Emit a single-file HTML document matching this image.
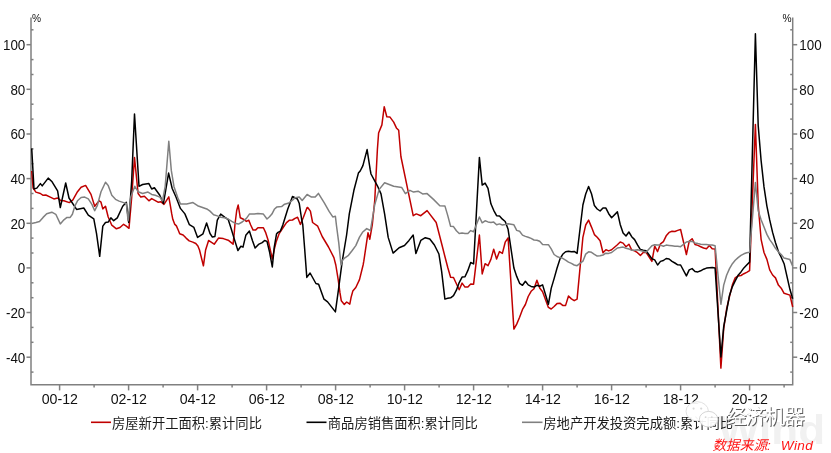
<!DOCTYPE html>
<html lang="zh-CN">
<head>
<meta charset="utf-8">
<title>chart</title>
<style>
html,body{margin:0;padding:0;background:#fff;}
body{width:831px;height:453px;position:relative;overflow:hidden;font-family:"Liberation Sans","Noto Sans CJK SC",sans-serif;}
</style>
</head>
<body>
<svg width="831" height="453" viewBox="0 0 831 453" style="position:absolute;left:0;top:0">
<text x="718" y="444" font-family="'Liberation Sans',sans-serif" font-weight="bold" font-size="41" fill="#f1f1f1" textLength="107" lengthAdjust="spacingAndGlyphs">Wind</text>
<g stroke="#808080" stroke-width="1.5" fill="none">
<path d="M31,17.5 V384.8 H792.7 V17.5"/>
<path d="M26.5,357.2 H31"/>
<path d="M792.7,357.2 H797.2"/>
<path d="M26.5,312.5 H31"/>
<path d="M792.7,312.5 H797.2"/>
<path d="M26.5,267.9 H31"/>
<path d="M792.7,267.9 H797.2"/>
<path d="M26.5,223.3 H31"/>
<path d="M792.7,223.3 H797.2"/>
<path d="M26.5,178.6 H31"/>
<path d="M792.7,178.6 H797.2"/>
<path d="M26.5,134.0 H31"/>
<path d="M792.7,134.0 H797.2"/>
<path d="M26.5,89.3 H31"/>
<path d="M792.7,89.3 H797.2"/>
<path d="M26.5,44.7 H31"/>
<path d="M792.7,44.7 H797.2"/>
<path d="M31,372.1 h2.5"/>
<path d="M792.7,372.1 h-2.5"/>
<path d="M31,342.3 h2.5"/>
<path d="M792.7,342.3 h-2.5"/>
<path d="M31,327.4 h2.5"/>
<path d="M792.7,327.4 h-2.5"/>
<path d="M31,297.7 h2.5"/>
<path d="M792.7,297.7 h-2.5"/>
<path d="M31,282.8 h2.5"/>
<path d="M792.7,282.8 h-2.5"/>
<path d="M31,253.0 h2.5"/>
<path d="M792.7,253.0 h-2.5"/>
<path d="M31,238.1 h2.5"/>
<path d="M792.7,238.1 h-2.5"/>
<path d="M31,208.4 h2.5"/>
<path d="M792.7,208.4 h-2.5"/>
<path d="M31,193.5 h2.5"/>
<path d="M792.7,193.5 h-2.5"/>
<path d="M31,163.7 h2.5"/>
<path d="M792.7,163.7 h-2.5"/>
<path d="M31,148.9 h2.5"/>
<path d="M792.7,148.9 h-2.5"/>
<path d="M31,119.1 h2.5"/>
<path d="M792.7,119.1 h-2.5"/>
<path d="M31,104.2 h2.5"/>
<path d="M792.7,104.2 h-2.5"/>
<path d="M31,74.5 h2.5"/>
<path d="M792.7,74.5 h-2.5"/>
<path d="M31,59.6 h2.5"/>
<path d="M792.7,59.6 h-2.5"/>
<path d="M31,29.8 h2.5"/>
<path d="M792.7,29.8 h-2.5"/>
<path d="M59.6,384.8 v5.6"/>
<path d="M94.1,384.8 v2.8"/>
<path d="M128.6,384.8 v5.6"/>
<path d="M163.1,384.8 v2.8"/>
<path d="M197.6,384.8 v5.6"/>
<path d="M232.1,384.8 v2.8"/>
<path d="M266.6,384.8 v5.6"/>
<path d="M301.1,384.8 v2.8"/>
<path d="M335.6,384.8 v5.6"/>
<path d="M370.1,384.8 v2.8"/>
<path d="M404.6,384.8 v5.6"/>
<path d="M439.1,384.8 v2.8"/>
<path d="M473.6,384.8 v5.6"/>
<path d="M508.1,384.8 v2.8"/>
<path d="M542.6,384.8 v5.6"/>
<path d="M577.1,384.8 v2.8"/>
<path d="M611.6,384.8 v5.6"/>
<path d="M646.1,384.8 v2.8"/>
<path d="M680.6,384.8 v5.6"/>
<path d="M715.1,384.8 v2.8"/>
<path d="M749.6,384.8 v5.6"/>
<path d="M784.1,384.8 v2.8"/>
</g>
<path d="M31.7,171.0 L33.1,188.1 L35.9,192.1 L40.4,193.5 L43.1,195.3 L45.8,195.0 L50.3,197.1 L53.9,198.9 L57.6,198.0 L61.2,200.8 L63.9,200.8 L69.3,202.6 L72.9,199.9 L77.5,191.7 L81.1,187.2 L85.6,185.4 L91.0,194.4 L94.7,206.2 L99.2,200.8 L101.0,202.2 L102.8,208.9 L105.5,206.2 L108.2,217.0 L111.8,225.2 L116.4,228.8 L120.0,227.5 L123.6,224.3 L126.3,226.1 L129.0,228.3 L131.7,197.1 L134.5,157.5 L138.1,193.5 L140.8,197.1 L144.4,196.2 L148.9,200.8 L151.7,198.6 L158.0,202.2 L160.7,201.7 L164.0,204.4 L168.8,196.8 L170.4,205.9 L171.6,213.2 L172.8,219.3 L174.6,224.1 L176.4,225.9 L178.3,230.2 L179.7,233.8 L183.1,235.0 L186.1,238.1 L189.2,240.9 L192.8,242.1 L195.8,243.5 L197.9,246.0 L199.5,250.0 L203.4,265.8 L205.6,250.0 L208.6,240.5 L210.0,241.4 L214.2,244.2 L218.5,238.1 L223.3,238.6 L228.2,240.2 L233.1,244.2 L234.3,232.3 L234.9,225.0 L236.7,210.5 L238.2,205.0 L240.3,217.8 L243.4,219.2 L246.4,221.4 L248.8,220.2 L250.7,225.0 L253.1,230.1 L255.5,230.1 L257.9,227.7 L263.4,227.7 L265.8,232.9 L268.3,240.8 L270.7,251.7 L272.3,259.0 L274.3,249.3 L276.1,242.0 L279.2,233.5 L282.8,228.0 L286.5,222.6 L289.5,220.2 L292.5,220.0 L295.0,218.4 L297.6,217.2 L300.4,224.4 L303.4,217.2 L307.1,207.5 L307.7,207.5 L310.4,211.1 L312.6,222.5 L317.7,226.2 L322.2,236.5 L328.5,247.0 L333.9,257.6 L335.8,265.0 L338.2,279.6 L340.0,292.9 L341.3,300.8 L344.3,304.4 L346.7,302.0 L349.8,304.1 L351.0,297.8 L352.8,291.1 L355.8,287.5 L359.5,279.6 L363.1,265.0 L363.8,261.2 L367.4,236.8 L368.0,232.8 L369.8,239.2 L372.3,224.7 L374.7,201.2 L377.4,149.3 L378.6,133.0 L381.9,124.9 L384.2,106.8 L386.8,116.7 L390.0,117.1 L393.7,122.1 L396.4,127.9 L398.7,130.3 L400.9,156.5 L408.1,191.2 L413.2,215.7 L416.3,213.9 L420.8,215.7 L427.1,210.6 L436.2,222.5 L442.5,247.0 L444.9,256.5 L447.7,267.2 L450.6,277.3 L453.5,277.5 L456.4,283.7 L459.2,289.8 L462.1,283.1 L465.0,287.1 L467.9,286.9 L470.7,284.0 L473.6,284.2 L479.4,235.1 L482.2,273.9 L485.1,263.7 L488.0,265.7 L490.9,259.4 L493.7,249.2 L496.6,259.0 L499.5,251.6 L502.4,253.4 L505.2,242.2 L508.1,237.8 L513.9,329.1 L516.7,324.1 L519.6,317.2 L522.5,309.4 L525.4,304.5 L528.2,296.5 L531.1,291.3 L534.0,288.7 L536.9,280.2 L539.7,288.0 L542.6,291.8 L548.4,307.4 L551.2,309.0 L554.1,306.5 L557.0,303.6 L559.9,303.2 L562.7,305.4 L565.6,305.4 L568.5,296.0 L571.4,298.9 L574.2,300.7 L577.1,299.1 L582.9,237.3 L585.7,225.0 L588.6,220.1 L591.5,227.1 L594.4,234.6 L597.2,237.3 L600.1,240.7 L603.0,252.7 L605.9,249.8 L608.7,250.9 L611.6,249.8 L617.4,244.7 L620.2,242.0 L623.1,243.1 L626.0,246.7 L628.9,244.2 L631.7,250.0 L634.6,250.9 L637.5,252.7 L640.4,255.4 L643.2,252.5 L646.1,252.3 L651.9,261.4 L654.7,246.2 L657.6,251.6 L660.5,243.8 L663.4,241.6 L666.2,235.8 L669.1,232.4 L672.0,231.3 L674.9,231.5 L677.7,230.4 L680.6,229.5 L686.4,254.5 L689.2,241.3 L692.1,238.7 L695.0,244.5 L697.9,245.4 L700.7,246.7 L703.6,248.0 L706.5,248.7 L709.4,245.6 L712.2,248.7 L715.1,248.9 L720.9,368.1 L723.7,328.6 L726.6,309.0 L729.5,296.5 L732.4,284.9 L735.2,277.9 L738.1,275.9 L741.0,275.5 L743.9,273.7 L746.7,272.4 L749.6,270.6 L755.4,124.4 L758.2,205.0 L761.1,239.3 L764.0,252.5 L766.9,259.4 L769.7,269.9 L772.6,275.0 L775.5,277.9 L778.4,285.1 L781.2,288.2 L784.1,293.3 L789.9,295.1 L792.7,307.0" stroke="#c00000" stroke-width="1.5" fill="none" stroke-linejoin="round"/>
<path d="M31.7,148.4 L34.0,189.0 L36.8,188.1 L40.4,183.6 L42.2,185.9 L48.2,178.1 L52.1,181.8 L57.6,190.8 L60.3,207.6 L65.7,183.0 L69.0,198.0 L76.6,209.4 L83.8,208.0 L88.3,215.2 L93.8,218.9 L96.5,233.3 L99.7,256.3 L102.8,226.1 L105.5,222.5 L108.2,222.1 L110.9,217.9 L113.7,220.7 L117.3,217.9 L122.7,206.2 L126.3,202.2 L128.7,222.5 L131.7,180.9 L134.5,114.0 L139.0,186.3 L142.6,184.5 L148.9,183.6 L151.7,189.0 L154.4,187.7 L159.8,195.3 L163.4,203.5 L168.6,173.1 L172.2,188.5 L175.9,196.7 L180.4,208.4 L184.9,213.9 L189.4,224.7 L193.9,227.4 L197.6,237.4 L203.0,233.8 L206.6,222.9 L210.0,233.5 L212.4,237.1 L214.9,236.5 L217.3,220.2 L220.7,214.1 L224.6,217.2 L228.2,219.6 L231.2,228.7 L233.7,237.1 L237.9,250.5 L240.9,246.2 L243.0,247.1 L245.8,235.3 L249.4,231.1 L252.5,240.8 L255.1,248.1 L258.5,244.4 L262.2,242.6 L264.6,240.5 L267.0,241.4 L269.5,251.7 L272.3,266.9 L274.3,246.8 L276.5,234.1 L278.0,232.3 L280.4,231.1 L282.8,225.0 L287.7,209.3 L292.5,196.5 L297.4,199.0 L299.2,203.2 L301.6,219.0 L302.8,225.0 L304.7,249.3 L306.8,277.4 L310.1,273.0 L315.9,283.5 L318.6,284.2 L324.0,299.2 L327.6,301.9 L335.4,311.9 L338.5,289.3 L342.1,262.1 L346.6,235.0 L349.3,213.9 L353.9,190.3 L358.4,173.1 L360.2,171.0 L362.9,165.6 L367.1,149.6 L370.1,169.2 L371.0,174.0 L377.4,185.8 L381.0,193.9 L384.6,213.9 L388.2,237.4 L393.1,253.1 L399.1,247.7 L404.5,245.5 L409.0,240.4 L413.2,235.0 L415.9,253.6 L420.8,240.4 L425.3,237.7 L429.8,239.0 L434.4,245.0 L438.9,254.0 L441.6,271.2 L444.9,299.1 L447.7,298.3 L450.6,297.8 L453.5,295.6 L456.4,290.2 L459.2,282.6 L462.1,277.1 L465.0,276.8 L467.9,270.4 L470.7,262.5 L473.6,263.9 L479.4,157.4 L482.2,185.1 L485.1,183.1 L488.0,188.4 L490.9,203.8 L493.7,210.3 L496.6,215.7 L499.5,215.9 L502.4,219.2 L505.2,221.5 L508.1,229.3 L513.9,268.1 L516.7,276.4 L519.6,283.3 L522.5,285.3 L525.4,281.3 L528.2,284.9 L531.1,286.4 L534.0,287.1 L536.9,285.3 L539.7,286.2 L542.6,284.9 L548.4,304.3 L551.2,288.4 L554.1,278.6 L557.0,268.3 L559.9,259.2 L562.7,254.3 L565.6,251.8 L568.5,251.2 L571.4,251.8 L574.2,251.4 L577.1,253.4 L582.9,205.0 L585.7,194.0 L588.6,186.4 L591.5,193.8 L594.4,205.6 L597.2,209.0 L600.1,211.0 L603.0,207.9 L605.9,208.1 L608.7,213.7 L611.6,217.7 L617.4,211.9 L620.2,224.4 L623.1,232.9 L626.0,236.0 L628.9,232.0 L631.7,236.7 L634.6,239.6 L637.5,244.9 L640.4,249.6 L643.2,250.3 L646.1,250.7 L651.9,258.7 L654.7,259.9 L657.6,265.0 L660.5,261.4 L663.4,260.5 L666.2,258.5 L669.1,259.0 L672.0,261.4 L674.9,263.0 L677.7,264.8 L680.6,265.0 L686.4,275.9 L689.2,269.9 L692.1,268.6 L695.0,271.5 L697.9,271.9 L700.7,270.8 L703.6,269.2 L706.5,268.1 L709.4,267.7 L712.2,267.5 L715.1,268.1 L720.9,357.0 L723.7,326.6 L726.6,311.0 L729.5,295.4 L732.4,286.6 L735.2,280.8 L738.1,275.3 L741.0,271.9 L743.9,267.9 L746.7,265.0 L749.6,262.1 L755.4,33.8 L758.2,125.5 L761.1,160.5 L764.0,186.9 L766.9,206.1 L769.7,219.9 L772.6,232.4 L775.5,242.7 L778.4,251.6 L781.2,257.2 L784.1,263.7 L789.9,289.3 L792.7,298.7" stroke="#000" stroke-width="1.5" fill="none" stroke-linejoin="round"/>
<path d="M31.7,223.4 L35.9,222.5 L39.5,221.6 L43.1,217.4 L46.7,213.8 L51.8,212.2 L55.8,214.3 L60.3,223.9 L63.9,219.8 L67.0,217.4 L70.2,217.4 L72.4,214.3 L74.8,206.2 L77.5,200.8 L81.1,197.5 L84.7,197.1 L88.3,198.9 L91.9,204.4 L94.7,210.7 L97.4,205.3 L101.0,191.7 L105.5,182.3 L108.2,185.4 L111.8,195.3 L115.5,199.3 L119.1,201.1 L123.6,202.6 L126.3,203.5 L128.1,220.7 L130.8,197.1 L134.8,186.3 L138.1,191.7 L142.6,193.5 L148.0,192.1 L151.7,194.4 L155.3,195.3 L159.8,197.1 L162.5,200.8 L165.2,186.3 L168.8,141.2 L171.3,170.4 L174.0,186.7 L177.7,197.6 L180.4,203.9 L186.7,203.9 L193.0,202.6 L197.6,205.7 L207.5,209.3 L210.0,211.1 L213.6,214.7 L217.3,215.9 L220.9,217.2 L224.6,217.8 L228.2,219.0 L231.8,221.4 L234.9,223.2 L238.5,224.1 L242.2,222.0 L246.4,218.4 L249.4,214.1 L251.3,213.9 L254.3,214.1 L257.9,213.5 L263.4,214.1 L267.0,219.0 L269.5,216.8 L271.9,214.1 L274.3,209.3 L276.7,207.1 L281.6,206.6 L284.6,204.2 L288.9,203.0 L292.5,200.2 L295.0,197.7 L299.2,196.9 L302.2,200.5 L307.1,194.5 L311.5,197.1 L315.2,197.1 L318.4,193.4 L324.3,202.9 L329.1,211.4 L332.8,216.9 L335.4,216.3 L336.4,225.0 L338.8,243.2 L341.0,265.0 L342.5,260.2 L344.9,257.8 L348.5,255.3 L352.2,250.5 L355.8,245.6 L359.5,237.1 L362.5,232.3 L366.7,228.6 L370.4,230.5 L374.7,204.8 L379.2,189.4 L384.6,182.7 L393.7,186.3 L401.8,187.6 L405.4,193.6 L409.9,190.3 L413.6,192.1 L418.1,191.2 L422.6,193.9 L427.1,193.6 L433.5,199.4 L439.8,205.7 L444.9,205.9 L447.7,215.4 L450.6,226.2 L453.5,226.6 L456.4,230.8 L459.2,233.5 L462.1,233.1 L465.0,233.5 L467.9,233.5 L470.7,230.6 L473.6,231.7 L479.4,217.0 L482.2,222.8 L485.1,220.8 L488.0,221.9 L490.9,222.6 L493.7,222.1 L496.6,224.8 L499.5,223.9 L502.4,225.0 L505.2,224.4 L508.1,223.7 L513.9,224.8 L516.7,230.4 L519.6,231.3 L522.5,235.1 L525.4,236.4 L528.2,237.3 L531.1,238.4 L534.0,240.0 L536.9,240.2 L539.7,241.3 L542.6,244.5 L548.4,244.7 L551.2,248.9 L554.1,254.5 L557.0,256.5 L559.9,257.6 L562.7,258.3 L565.6,260.1 L568.5,262.1 L571.4,263.4 L574.2,265.0 L577.1,265.7 L582.9,261.2 L585.7,254.1 L588.6,251.8 L591.5,252.3 L594.4,254.3 L597.2,256.1 L600.1,255.8 L603.0,255.0 L605.9,253.2 L608.7,253.4 L611.6,252.5 L617.4,248.0 L620.2,247.6 L623.1,247.1 L626.0,248.3 L628.9,248.9 L631.7,250.3 L634.6,250.3 L637.5,249.8 L640.4,250.5 L643.2,251.2 L646.1,252.3 L651.9,245.8 L654.7,244.7 L657.6,244.9 L660.5,245.1 L663.4,246.2 L666.2,245.1 L669.1,245.4 L672.0,245.8 L674.9,246.2 L677.7,246.2 L680.6,246.7 L686.4,242.0 L689.2,241.6 L692.1,241.3 L695.0,242.9 L697.9,243.6 L700.7,244.2 L703.6,244.5 L706.5,244.5 L709.4,244.9 L712.2,245.1 L715.1,245.8 L720.9,304.3 L723.7,285.1 L726.6,275.3 L729.5,268.6 L732.4,263.7 L735.2,260.3 L738.1,257.6 L741.0,255.4 L743.9,253.8 L746.7,252.7 L749.6,252.3 L755.4,182.4 L758.2,210.8 L761.1,219.7 L764.0,227.1 L766.9,234.4 L769.7,239.6 L772.6,243.6 L775.5,248.3 L778.4,251.8 L781.2,254.5 L784.1,258.1 L789.9,259.6 L792.7,266.3" stroke="#808080" stroke-width="1.5" fill="none" stroke-linejoin="round"/>
<g font-family="'Liberation Sans',sans-serif" fill="#111">
<text transform="translate(25.3,362.6) scale(1,1.1)" font-size="13.4" text-anchor="end">-40</text>
<text transform="translate(799.3,362.6) scale(1,1.1)" font-size="13.4" text-anchor="start">-40</text>
<text transform="translate(25.3,317.9) scale(1,1.1)" font-size="13.4" text-anchor="end">-20</text>
<text transform="translate(799.3,317.9) scale(1,1.1)" font-size="13.4" text-anchor="start">-20</text>
<text transform="translate(25.3,273.3) scale(1,1.1)" font-size="13.4" text-anchor="end">0</text>
<text transform="translate(799.3,273.3) scale(1,1.1)" font-size="13.4" text-anchor="start">0</text>
<text transform="translate(25.3,228.7) scale(1,1.1)" font-size="13.4" text-anchor="end">20</text>
<text transform="translate(799.3,228.7) scale(1,1.1)" font-size="13.4" text-anchor="start">20</text>
<text transform="translate(25.3,184.0) scale(1,1.1)" font-size="13.4" text-anchor="end">40</text>
<text transform="translate(799.3,184.0) scale(1,1.1)" font-size="13.4" text-anchor="start">40</text>
<text transform="translate(25.3,139.4) scale(1,1.1)" font-size="13.4" text-anchor="end">60</text>
<text transform="translate(799.3,139.4) scale(1,1.1)" font-size="13.4" text-anchor="start">60</text>
<text transform="translate(25.3,94.7) scale(1,1.1)" font-size="13.4" text-anchor="end">80</text>
<text transform="translate(799.3,94.7) scale(1,1.1)" font-size="13.4" text-anchor="start">80</text>
<text transform="translate(25.3,50.1) scale(1,1.1)" font-size="13.4" text-anchor="end">100</text>
<text transform="translate(799.3,50.1) scale(1,1.1)" font-size="13.4" text-anchor="start">100</text>
<text transform="translate(59.8,403.8) scale(1,1.05)" font-size="14.2" text-anchor="middle">00-12</text>
<text transform="translate(128.8,403.8) scale(1,1.05)" font-size="14.2" text-anchor="middle">02-12</text>
<text transform="translate(197.8,403.8) scale(1,1.05)" font-size="14.2" text-anchor="middle">04-12</text>
<text transform="translate(266.8,403.8) scale(1,1.05)" font-size="14.2" text-anchor="middle">06-12</text>
<text transform="translate(335.8,403.8) scale(1,1.05)" font-size="14.2" text-anchor="middle">08-12</text>
<text transform="translate(404.8,403.8) scale(1,1.05)" font-size="14.2" text-anchor="middle">10-12</text>
<text transform="translate(473.8,403.8) scale(1,1.05)" font-size="14.2" text-anchor="middle">12-12</text>
<text transform="translate(542.8,403.8) scale(1,1.05)" font-size="14.2" text-anchor="middle">14-12</text>
<text transform="translate(611.8,403.8) scale(1,1.05)" font-size="14.2" text-anchor="middle">16-12</text>
<text transform="translate(680.8,403.8) scale(1,1.05)" font-size="14.2" text-anchor="middle">18-12</text>
<text transform="translate(749.8,403.8) scale(1,1.05)" font-size="14.2" text-anchor="middle">20-12</text>
<text transform="translate(32.0,21.8) scale(1,1.0)" font-size="10.2" text-anchor="start">%</text>
<text transform="translate(791.5,21.8) scale(1,1.0)" font-size="10.2" text-anchor="end">%</text>
</g>
<g font-family="'Liberation Sans','Noto Sans CJK SC',sans-serif" font-size="13.3" fill="#1a1a1a">
<path d="M91,422.3 H111" stroke="#c00000" stroke-width="1.6"/>
<text x="112" y="428">房屋新开工面积:累计同比</text>
<path d="M306.5,422.3 H326.5" stroke="#000" stroke-width="1.6"/>
<text x="327.8" y="428">商品房销售面积:累计同比</text>
<path d="M522,422.3 H542.5" stroke="#808080" stroke-width="1.6"/>
<text x="543.3" y="428">房地产开发投资完成额:累计同比</text>
</g>
<g>
<ellipse cx="697.2" cy="411.3" rx="11.2" ry="9.6" fill="#fff" fill-opacity="0.93" stroke="#dcdcdc" stroke-width="0.9"/>
<ellipse cx="708.6" cy="419.2" rx="9.2" ry="7.8" fill="#fff" fill-opacity="0.93" stroke="#d0d0d0" stroke-width="0.9"/>
<circle cx="693.6" cy="408.6" r="1.1" fill="#d8d8d8"/><circle cx="701.2" cy="408.6" r="1.1" fill="#d8d8d8"/>
<circle cx="705.6" cy="417.2" r="0.9" fill="#d8d8d8"/><circle cx="711.8" cy="417.2" r="0.9" fill="#d8d8d8"/>
</g>
<g font-family="'Liberation Sans','Noto Sans CJK SC',sans-serif" font-size="20.5">
<text x="727.2" y="425.2" fill="#5e5e5e" textLength="78.5">经济机器</text>
<text x="726.2" y="424.2" fill="#fff" textLength="78.5">经济机器</text>
</g>
<g font-family="'Liberation Sans','Noto Sans CJK SC',sans-serif" font-size="13.6" font-style="italic" fill="#ff1515">
<text x="712.4" y="449.6" textLength="58.5">数据来源:</text>
<text x="780.8" y="449.6" textLength="32">Wind</text>
</g>
</svg>
</body>
</html>
